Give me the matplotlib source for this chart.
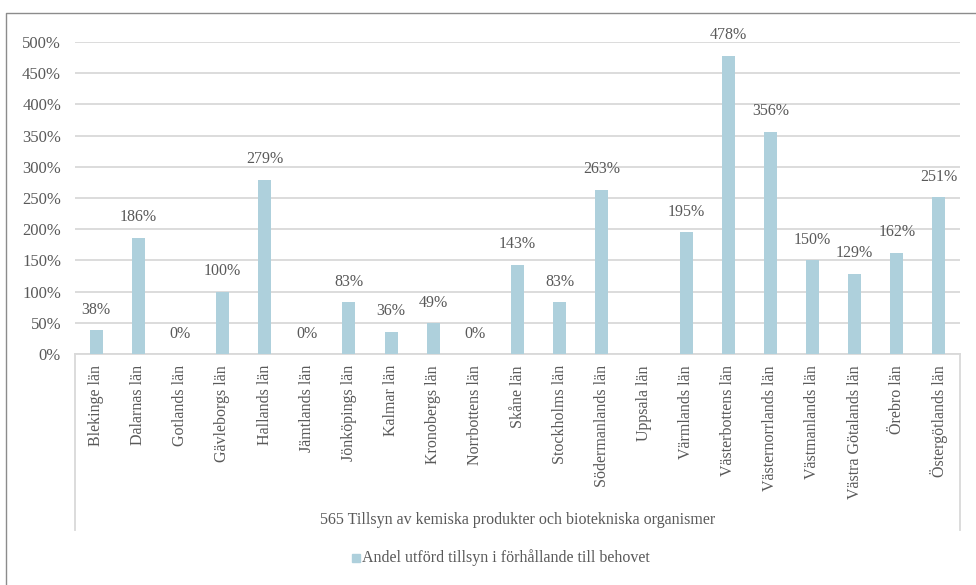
import numpy as np
import matplotlib.pyplot as plt
from matplotlib.lines import Line2D
from matplotlib.patches import Rectangle

# --- data ---
lan = ['Blekinge län', 'Dalarnas län', 'Gotlands län', 'Gävleborgs län', 'Hallands län',
       'Jämtlands län', 'Jönköpings län', 'Kalmar län', 'Kronobergs län', 'Norrbottens län',
       'Skåne län', 'Stockholms län', 'Södermanlands län', 'Uppsala län', 'Värmlands län',
       'Västerbottens län', 'Västernorrlands län', 'Västmanlands län', 'Västra Götalands län',
       'Örebro län', 'Östergötlands län']
andel = [38, 186, 0, 100, 279, 0, 83, 36, 49, 0, 143, 83, 263, np.nan, 195,
         478, 356, 150, 129, 162, 251]
y_ticks = [0, 50, 100, 150, 200, 250, 300, 350, 400, 450, 500]
grupp = '565 Tillsyn av kemiska produkter och biotekniska organismer'
serie = 'Andel utförd tillsyn i förhållande till behovet'

plt.rcParams['font.family'] = ['Liberation Serif', 'DejaVu Serif']
grå_text = '#595959'
grå_linje = '#D9D9D9'
stapel_färg = '#AED0DC'
fs = 11.5

W, H = 976, 585
fig = plt.figure(figsize=(W / 100, H / 100), dpi=100)

# plottytans position i pixlar
x0, x1 = 75, 960
y0, y1 = 354, 42
ax = fig.add_axes([x0 / W, 1 - y0 / H, (x1 - x0) / W, (y0 - y1) / H])

x = np.arange(len(lan))
ax.bar(x, andel, width=0.31, color=stapel_färg, zorder=3)
for xi, v in zip(x, andel):
    if np.isnan(v):
        continue
    ax.annotate(f'{v:.0f}%', (xi, v), xytext=(0, 9), textcoords='offset points',
                ha='center', va='bottom', fontsize=fs, color=grå_text, clip_on=False)

ax.set_xlim(-0.5, len(lan) - 0.5)
ax.set_ylim(0, 500)
ax.set_yticks(y_ticks)
ax.set_yticklabels([f'{t}%' for t in y_ticks])
ax.yaxis.grid(True, color=grå_linje, linewidth=1.3, zorder=0)
ax.set_xticks(x)
ax.set_xticklabels(lan, rotation=90, va='top', ha='center')
ax.tick_params(axis='both', length=0, labelsize=fs, labelcolor=grå_text)
ax.tick_params(axis='y', labelsize=12, pad=10)
ax.tick_params(axis='x', pad=8)
for s in ['left', 'right', 'top']:
    ax.spines[s].set_visible(False)
ax.spines['bottom'].set_color(grå_linje)
ax.spines['bottom'].set_linewidth(1.3)

# kategoriaxelns ram (vertikala linjer nedåt)
for xp in (x0, x1):
    fig.add_artist(Line2D([xp / W, xp / W], [1 - y0 / H, 1 - 530 / H],
                          color=grå_linje, lw=1.3))

fig.text((x0 + x1) / 2 / W, 1 - 520 / H, grupp, ha='center', va='center',
         fontsize=fs, color=grå_text)

# legend
fig.add_artist(Rectangle((352 / W, 1 - 562 / H), 8 / W, 8 / H, color=stapel_färg,
                         transform=fig.transFigure))
fig.text(362 / W, 1 - 558 / H, serie, ha='left', va='center', fontsize=fs, color=grå_text)

# diagramram
fig.add_artist(Line2D([6 / W, 6 / W, 1], [0, 1 - 13 / H, 1 - 13 / H],
                      color='#8C8C8C', lw=1))

fig.savefig('out.png', dpi=100)
